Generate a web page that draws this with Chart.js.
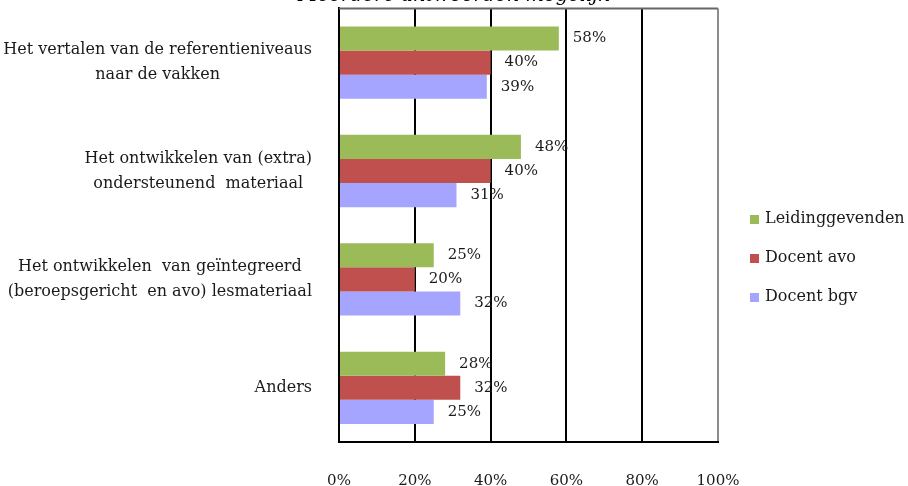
<!DOCTYPE html>
<html>
<head>
<meta charset="utf-8">
<script src="https://cdn.jsdelivr.net/npm/chart.js@4.4.0/dist/chart.umd.min.js"></script>
<style>
  html, body { margin: 0; padding: 0; background: #fff; }
</style>
</head>
<body>
<canvas id="chart" width="908" height="486"></canvas>
<script>
// Categories (each entry is one label, split into lines)
const categories = [
  ['Het vertalen van de referentieniveaus', 'naar de vakken'],
  ['Het ontwikkelen van (extra)', 'ondersteunend  materiaal'],
  ['Het ontwikkelen  van geïntegreerd', '(beroepsgericht  en avo) lesmateriaal'],
  ['Anders']
];
const seriesNames = ['Leidinggevenden', 'Docent avo', 'Docent bgv'];
const leidinggevenden = [58, 48, 25, 28];
const docentAvo = [40, 40, 20, 32];
const docentBgv = [39, 31, 32, 25];
const xTicks = [0, 20, 40, 60, 80, 100];

const colors = ['#9bbb59', '#c0504d', '#a5a5ff'];
const FONT = "'DejaVu Serif', serif";

Chart.defaults.font.family = FONT;
Chart.defaults.font.size = 15;
Chart.defaults.color = '#1a1a1a';

// Top border of the plot frame
const frameTop = {
  id: 'frameTop',
  beforeDatasetsDraw(chart) {
    const { ctx, chartArea } = chart;
    ctx.save();
    ctx.strokeStyle = '#666';
    ctx.lineWidth = 2;
    ctx.beginPath();
    ctx.moveTo(chartArea.left, chartArea.top);
    ctx.lineTo(chartArea.right, chartArea.top);
    ctx.stroke();
    ctx.restore();
  }
};

// Percent labels right of each bar
const valueLabels = {
  id: 'valueLabels',
  afterDatasetsDraw(chart) {
    const { ctx } = chart;
    ctx.save();
    ctx.font = '15px ' + FONT;
    ctx.fillStyle = '#1a1a1a';
    ctx.textBaseline = 'middle';
    ctx.textAlign = 'left';
    chart.data.datasets.forEach((ds, i) => {
      chart.getDatasetMeta(i).data.forEach((bar, j) => {
        ctx.fillText(ds.data[j] + '%', bar.x + 14, bar.y);
      });
    });
    ctx.restore();
  }
};

// Category labels: lines centred within a block, blocks right-aligned
const categoryLabels = {
  id: 'categoryLabels',
  afterDraw(chart) {
    const { ctx, chartArea } = chart;
    const yScale = chart.scales.y;
    ctx.save();
    ctx.font = '16px ' + FONT;
    ctx.fillStyle = '#1a1a1a';
    ctx.textBaseline = 'middle';
    ctx.textAlign = 'center';
    categories.forEach((lines, i) => {
      const y = yScale.getPixelForValue(i);
      const blockW = Math.max(...lines.map(l => ctx.measureText(l).width));
      const cx = chartArea.left - 27 - blockW / 2;
      lines.forEach((l, k) => {
        ctx.fillText(l, cx, y + (k - (lines.length - 1) / 2) * 25);
      });
    });
    ctx.restore();
  }
};

// Legend on the right
const sideLegend = {
  id: 'sideLegend',
  afterDraw(chart) {
    const { ctx } = chart;
    ctx.save();
    ctx.font = '16px ' + FONT;
    ctx.textBaseline = 'middle';
    ctx.textAlign = 'left';
    chart.data.datasets.forEach((ds, i) => {
      const y = 219 + i * 39;
      ctx.fillStyle = ds.backgroundColor;
      ctx.fillRect(750, y - 4, 9, 9);
      ctx.fillStyle = '#1a1a1a';
      ctx.fillText(ds.label, 765, y);
    });
    ctx.restore();
  }
};

new Chart(document.getElementById('chart'), {
  type: 'bar',
  data: {
    labels: categories,
    datasets: [
      { label: seriesNames[0], data: leidinggevenden, backgroundColor: colors[0] },
      { label: seriesNames[1], data: docentAvo, backgroundColor: colors[1] },
      { label: seriesNames[2], data: docentBgv, backgroundColor: colors[2] }
    ]
  },
  options: {
    indexAxis: 'y',
    responsive: false,
    animation: false,
    layout: { padding: 0 },
    datasets: {
      bar: { categoryPercentage: 0.667, barPercentage: 1 }
    },
    plugins: {
      legend: { display: false },
      tooltip: { enabled: false },
      title: {
        display: true,
        text: 'Meerdere antwoorden mogelijk',
        color: '#000',
        font: { family: FONT, size: 19.5, style: 'italic', weight: 'normal' },
        padding: { top: -16, bottom: 1 }
      }
    },
    scales: {
      x: {
        min: 0,
        max: 100,
        afterBuildTicks: s => { s.ticks = xTicks.map(v => ({ value: v })); },
        afterFit: s => { s.height = 44; },
        ticks: {
          padding: 30,
          callback: v => v + '%'
        },
        grid: {
          drawTicks: false,
          lineWidth: 2,
          color: c => (c.tick && c.tick.value === 100 ? '#8c8c8c' : '#000')
        },
        border: { display: true, color: '#000', width: 2 }
      },
      y: {
        afterFit: s => { s.width = 339; },
        ticks: { display: false },
        grid: { display: false },
        border: { display: true, color: '#000', width: 2 }
      },
      // empty right-hand axis that keeps room for the legend
      legendSpace: {
        type: 'linear',
        position: 'right',
        afterFit: s => { s.width = 190; },
        ticks: { display: false },
        grid: { display: false },
        border: { display: false }
      }
    }
  },
  plugins: [frameTop, valueLabels, categoryLabels, sideLegend]
});
</script>
</body>
</html>
